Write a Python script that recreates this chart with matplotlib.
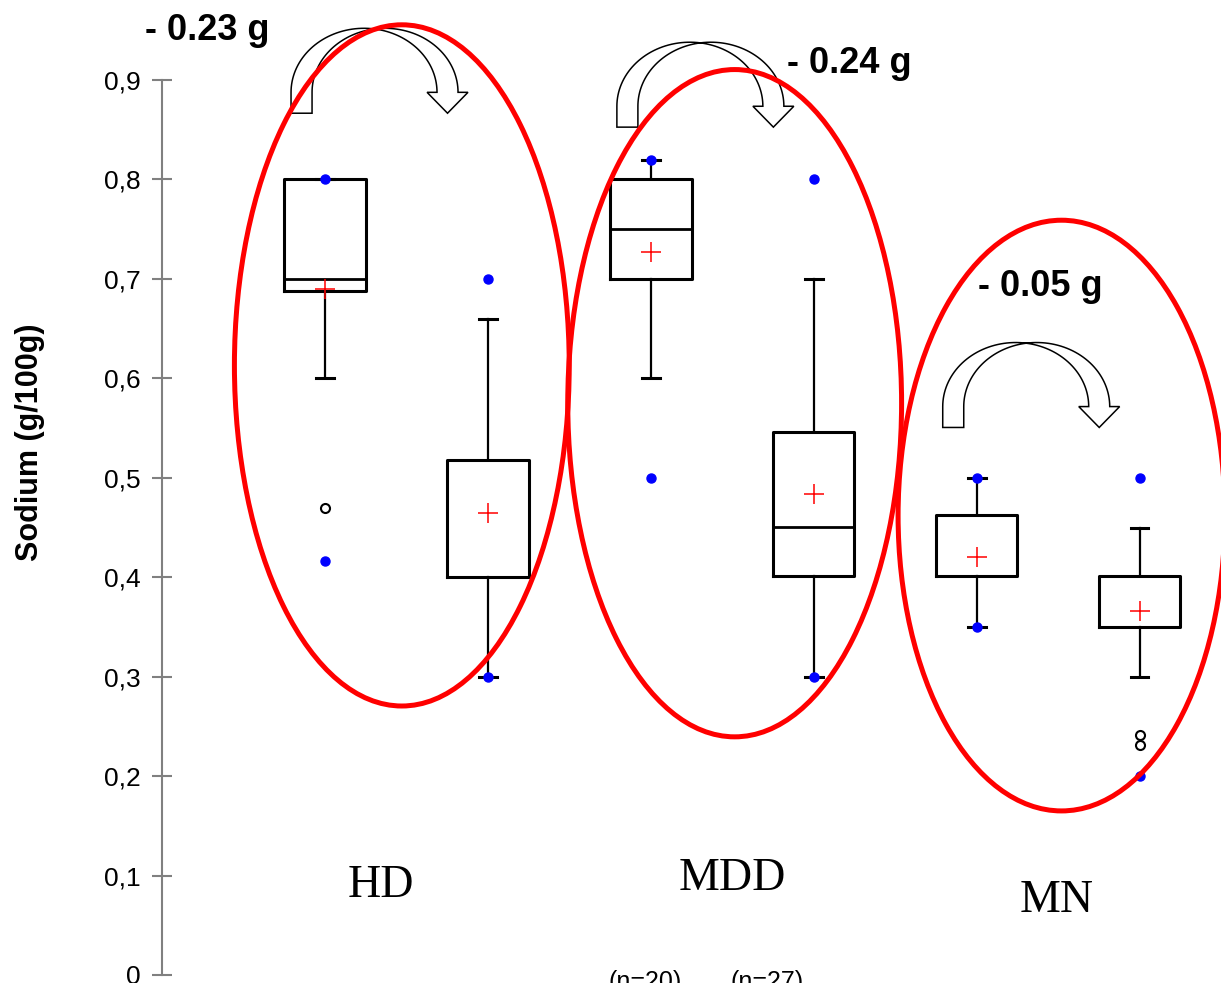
import matplotlib.pyplot as plt
import numpy as np
from matplotlib.patches import Ellipse, Polygon

# Box statistics (sodium, g/100g)
positions = [1, 2, 3, 4, 5, 6]
q1 = [0.688, 0.400, 0.700, 0.401, 0.401, 0.350]
medians = [0.700, 0.400, 0.750, 0.451, 0.401, 0.401]
q3 = [0.800, 0.518, 0.800, 0.546, 0.463, 0.401]
whis_lo = [0.600, 0.300, 0.600, 0.300, 0.350, 0.300]
whis_hi = [0.800, 0.660, 0.820, 0.700, 0.500, 0.450]
means = [0.690, 0.465, 0.727, 0.484, 0.420, 0.366]
outliers = [[0.470], [], [], [], [], [0.241, 0.231]]
minimums = [0.416, 0.300, 0.500, 0.300, 0.350, 0.200]
maximums = [0.800, 0.700, 0.820, 0.800, 0.500, 0.500]

groups = ['HD', 'MDD', 'MN']
group_label_pos = [(1.344, 0.090), (3.503, 0.097), (5.49, 0.075)]
diffs = ['- 0.23 g', '- 0.24 g', '- 0.05 g']
diff_label_pos = [(0.276, 0.950), (4.22, 0.917), (5.393, 0.692)]
arrow_tops = [0.952, 0.938, 0.636]
ellipses = [(1.472, 0.613, 2.055, 0.685), (3.515, 0.575, 2.049, 0.671), (5.521, 0.462, 2.006, 0.594)]
n_labels = ['(n=20)', '(n=27)']
n_label_x = [2.963, 3.712]

yticks = [0, 0.1, 0.2, 0.3, 0.4, 0.5, 0.6, 0.7, 0.8, 0.9]

fig = plt.figure(figsize=(12.21, 9.83), dpi=100)
ax = fig.add_axes([162 / 1221, 8 / 983, 1059 / 1221, 895 / 983])

stats = []
for i in range(len(positions)):
    stats.append({'med': medians[i], 'q1': q1[i], 'q3': q3[i], 'whislo': whis_lo[i],
                  'whishi': whis_hi[i], 'mean': means[i], 'fliers': outliers[i]})

ax.bxp(stats, positions=positions, widths=0.5, capwidths=0.11, showmeans=True,
       boxprops=dict(color='black', linewidth=2.2),
       medianprops=dict(color='black', linewidth=2.0),
       whiskerprops=dict(color='black', linewidth=1.6),
       capprops=dict(color='black', linewidth=2.2),
       meanprops=dict(marker='+', markeredgecolor='red', markersize=15, markeredgewidth=1.1),
       flierprops=dict(marker='o', markerfacecolor='white', markeredgecolor='black',
                       markersize=6.5, markeredgewidth=1.5))

# minimum / maximum points
ax.plot(positions, minimums, 'o', color='blue', markersize=6.5, zorder=4)
ax.plot(positions, maximums, 'o', color='blue', markersize=6.5, zorder=4)


def curved_arrow(ax, x0, ytop):
    # open curved arrow going from box x0 to box x0+1
    a, t, b = 0.448, 0.129, 0.0644
    tail, he, hl = 0.021, 0.061, 0.021
    cx = x0 + 0.24
    yc = ytop - b
    tc = np.arccos(t / (2 * a))
    pts = [(cx - a, yc - tail)]
    th = np.linspace(np.pi, tc, 40)
    pts += list(zip(cx + a * np.cos(th), yc + b * np.sin(th)))
    th = np.linspace(np.pi - tc, 0, 40)
    pts += list(zip(cx + t + a * np.cos(th), yc + b * np.sin(th)))
    pts += [(cx + t + a + he, yc), (cx + a + t / 2, yc - hl), (cx + a - he, yc)]
    th = np.linspace(0, tc, 40)
    pts += list(zip(cx + a * np.cos(th), yc + b * np.sin(th)))
    th = np.linspace(np.pi - tc, np.pi, 40)
    pts += list(zip(cx + t + a * np.cos(th), yc + b * np.sin(th)))
    pts += [(cx + t - a, yc - tail)]
    ax.add_patch(Polygon(pts, closed=True, facecolor='white', edgecolor='black',
                         linewidth=1.1, clip_on=False, zorder=5))


for k, top in enumerate(arrow_tops):
    curved_arrow(ax, positions[2 * k], top)

for (cx, cy, w, h) in ellipses:
    ax.add_patch(Ellipse((cx, cy), w, h, fill=False, edgecolor='red', linewidth=3.6,
                         clip_on=False, zorder=6))

for txt, (x, y) in zip(diffs, diff_label_pos):
    ax.text(x, y, txt, fontsize=26, fontweight='bold', family='Liberation Sans',
            ha='center', va='center', zorder=7)

for txt, (x, y) in zip(groups, group_label_pos):
    ax.text(x, y, txt, fontsize=33, family='Liberation Serif', ha='center', va='center')

# sample sizes, cut by the lower edge as in the original
for txt, x in zip(n_labels, n_label_x):
    ax.text(x, 0.005, txt, fontsize=18, family='Liberation Sans', ha='center', va='top')

ax.set_xlim(0, 6.5)
ax.set_ylim(0, 0.9)
ax.set_yticks(yticks)
ax.set_yticklabels([str(v).replace('.', ',') if v else '0' for v in yticks],
                   fontsize=19, family='Liberation Sans')
ax.tick_params(axis='y', direction='inout', length=15, width=1.5, color='#808080', pad=8)
ax.set_xticks([])
for side in ['top', 'right', 'bottom']:
    ax.spines[side].set_visible(False)
ax.spines['left'].set_color('#808080')
ax.spines['left'].set_linewidth(1.5)

fig.text(30 / 1221, 1 - 442 / 983, 'Sodium (g/100g)', rotation=90, fontsize=22,
         fontweight='bold', family='Liberation Sans', ha='center', va='center')

fig.savefig('out.png', dpi=100)
